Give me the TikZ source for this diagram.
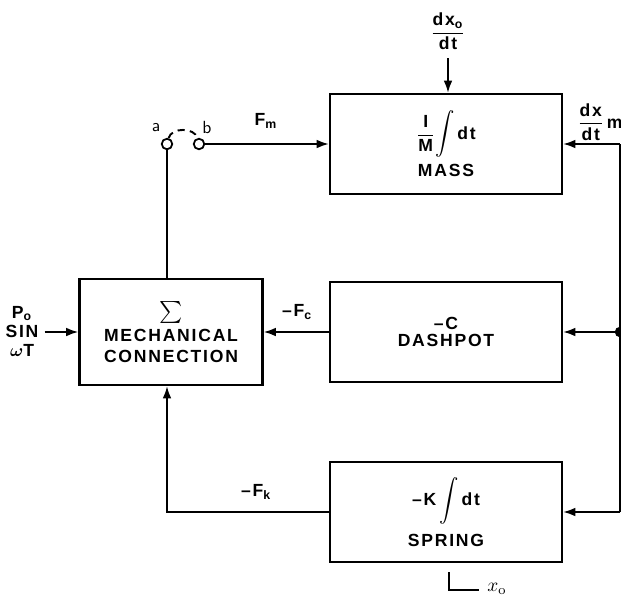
\documentclass[tikz,border=0pt]{standalone}
\usepackage{amsmath}
\usepackage{fontspec}
\newfontfamily\lettering[LetterSpace=10]{Liberation Sans}
\usetikzlibrary{positioning, arrows.meta}
\newcommand{\bigintg}{\scalebox{1.1}[1.2]{$\displaystyle\int$}}

\begin{document}
\begin{tikzpicture}[x=0.02cm, y=-0.02cm,
  every node/.style={font=\lettering\bfseries\fontsize{10}{11.5}\selectfont},
  block/.style={draw, line width=1.3pt, minimum width=4.64cm, minimum height=2cm, align=center, inner sep=0pt},
  link/.style={line width=1.1pt, -{Latex[length=7pt,width=5pt]}},
  wire/.style={line width=1.1pt},
  post/.style={circle, draw, line width=1pt, minimum size=6pt, inner sep=0pt, fill=white}]
  \useasboundingbox (0,0) rectangle (621,602);

  % blocks
  \node[block] (mass) at (446,144) {$\dfrac{\text{I}}{\text{M}}$\bigintg\,dt\\[3pt]MASS};
  \node[block] (dash) at (446,332) {\textendash C\\[-2pt]DASHPOT};
  \node[block] (spring) at (446,512) {\textendash K\,\bigintg\,dt\\[5pt]SPRING};
  \node[block, minimum width=3.66cm, minimum height=2.12cm] (sum) at (171,332)
    {\raisebox{2pt}{\scalebox{1.25}{$\boldsymbol{\sum}$}}\\[0pt]MECHANICAL\\CONNECTION};

  % switch a-b
  \node[post] (a) at (167,144) {};
  \node[post] (b) at (199,144) {};
  \node[font=\sffamily\fontsize{10}{12}\selectfont] (alab) at (156,128) {a};
  \node[font=\sffamily\fontsize{10}{12}\selectfont] (blab) at (207,127) {b};
  \draw[wire, dash pattern=on 4pt off 3pt] (a) to[bend left=75] (b);

  % forward paths
  \draw[wire] (a) -- (a |- sum.north);
  \draw[link] (b) -- (mass.west);
  \node (fm) at (266,121) {F$_\text{m}$};

  \coordinate (top) at (448,58);
  \draw[link] (top) -- (top |- mass.north);
  \node[above=1pt of top] (vin) {$\dfrac{\text{dx}_\text{o}}{\text{dt}}$};

  % velocity feedback on the right
  \coordinate (rt) at (620,144);
  \coordinate (rb) at (620,512);
  \draw[wire] (rt) -- (rb);
  \draw[link] (rt) -- (mass.east);
  \draw[link] (rt |- dash.east) -- (dash.east);
  \fill (rt |- dash.east) circle (3pt);
  \draw[link] (rb) -- (spring.east);
  \node (vm) at (600,122) {$\dfrac{\text{dx}}{\text{dt}}$\,m};

  % forces back to the sum
  \draw[link] (dash.west) -- (sum.east);
  \node (fc) at (297,312) {\textendash F$_\text{c}$};
  \draw[link] (spring.west) -| (a |- sum.south);
  \node (fk) at (256,492) {\textendash F$_\text{k}$};

  % drive
  \node[align=center, font=\lettering\bfseries\fontsize{10}{10.8}\selectfont] (drive) at (22,331) {P$_\text{o}$\\SIN\\$\boldsymbol{\omega}$T};
  \draw[link] (drive.east |- sum.west) -- (sum.west);

  % displacement tap
  \coordinate (xo) at (449,572);
  \draw[line width=0.6pt] (xo) -- ++(0,18) -- ++(30,0);
  \node[font=\fontsize{11}{12}\selectfont] (xolab) at (497,589) {$x_\text{o}$};
\end{tikzpicture}
\end{document}
